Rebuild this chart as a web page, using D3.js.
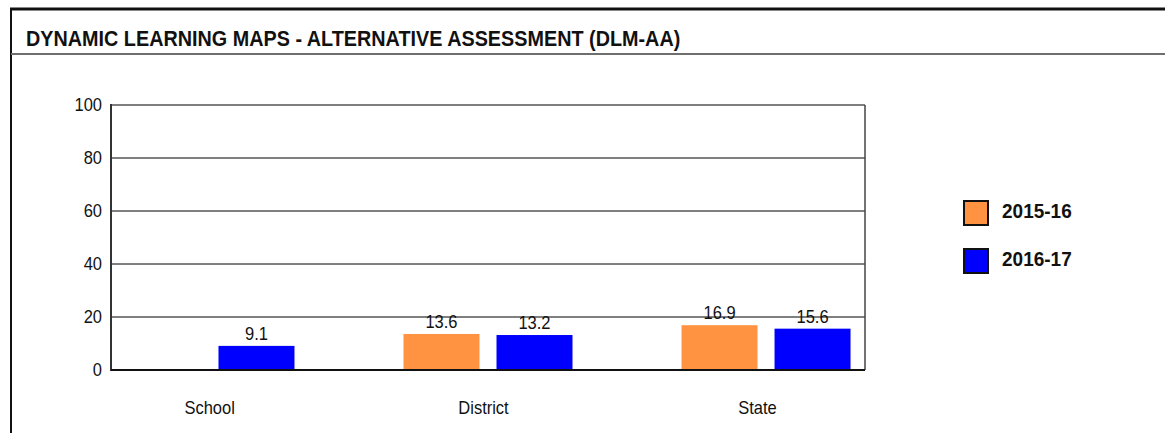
<!DOCTYPE html>
<html>
<head>
<meta charset="utf-8">
<script src="https://cdn.jsdelivr.net/npm/d3@7"></script>
<style>
  body { margin: 0; background: #fff; }
  text { font-family: "Liberation Sans", Arial, sans-serif; }
</style>
</head>
<body>
<div id="chart"></div>
<script>
var title = "DYNAMIC LEARNING MAPS - ALTERNATIVE ASSESSMENT (DLM-AA)";
var categories = ["School", "District", "State"];
var seriesNames = ["2015-16", "2016-17"];
var seriesColors = ["#ff9341", "#0000ff"];
var values2015 = [null, 13.6, 16.9];
var values2016 = [9.1, 13.2, 15.6];
var yTicks = [0, 20, 40, 60, 80, 100];

var allSeries = [values2015, values2016];

var svg = d3.select("#chart").append("svg")
    .attr("width", 1165)
    .attr("height", 433);

// frame + header
svg.append("line").attr("x1", 10).attr("x2", 1165).attr("y1", 9).attr("y2", 9)
    .attr("stroke", "#111").attr("stroke-width", 3);
svg.append("line").attr("x1", 11).attr("x2", 11).attr("y1", 8).attr("y2", 433)
    .attr("stroke", "#111").attr("stroke-width", 2);
svg.append("line").attr("x1", 11).attr("x2", 1165).attr("y1", 54).attr("y2", 54)
    .attr("stroke", "#6e6e6e").attr("stroke-width", 2);
svg.append("text")
    .attr("transform", "translate(26,46) scale(1,1.12)")
    .attr("font-size", "19.8px")
    .attr("font-weight", "bold")
    .attr("fill", "#111")
    .text(title);

var plotL = 111, plotR = 865, plotT = 105, plotB = 370;

var y = d3.scaleLinear().domain([0, 100]).range([plotB, plotT]);
var x0 = d3.scalePoint().domain(categories).range([plotL, plotR]).padding(0.356);
var x1 = d3.scaleBand().domain(d3.range(seriesNames.length)).range([-84.5, 84.5]).paddingInner(0.183);
var xLabel = d3.scalePoint().domain(categories).range([plotL, 856]).padding(0.36);

// gridlines
svg.append("g").selectAll("line")
    .data(yTicks.filter(function(d) { return d > 0; }))
    .enter().append("line")
    .attr("x1", plotL).attr("x2", plotR)
    .attr("y1", function(d) { return y(d); })
    .attr("y2", function(d) { return y(d); })
    .attr("stroke", "#000").attr("stroke-width", 1);

// plot border
svg.append("line").attr("x1", plotR).attr("x2", plotR).attr("y1", plotT).attr("y2", plotB)
    .attr("stroke", "#444").attr("stroke-width", 1.5);
svg.append("line").attr("x1", plotL).attr("x2", plotL).attr("y1", plotT - 1).attr("y2", plotB + 1)
    .attr("stroke", "#333").attr("stroke-width", 2);

// bars
var bars = [];
allSeries.forEach(function(vals, si) {
  vals.forEach(function(v, ci) {
    if (v != null) bars.push({ s: si, c: categories[ci], v: v });
  });
});

svg.append("g").selectAll("rect")
    .data(bars)
    .enter().append("rect")
    .attr("x", function(d) { return x0(d.c) + x1(d.s); })
    .attr("y", function(d) { return y(d.v); })
    .attr("width", x1.bandwidth())
    .attr("height", function(d) { return plotB - y(d.v); })
    .attr("fill", function(d) { return seriesColors[d.s]; });

svg.append("line").attr("x1", plotL).attr("x2", plotR).attr("y1", plotB).attr("y2", plotB)
    .attr("stroke", "#111").attr("stroke-width", 2);

// y tick labels
svg.append("g").selectAll("text")
    .data(yTicks)
    .enter().append("text")
    .attr("transform", function(d) { return "translate(" + (plotL - 9) + "," + (y(d) + 6) + ") scale(1,1.08)"; })
    .attr("text-anchor", "end")
    .attr("font-size", "16.5px")
    .attr("fill", "#111")
    .text(function(d) { return d; });

// value labels
svg.append("g").selectAll("text")
    .data(bars)
    .enter().append("text")
    .attr("transform", function(d) {
      return "translate(" + (x0(d.c) + x1(d.s) + x1.bandwidth() / 2) + "," + (y(d.v) - 6) + ") scale(1,1.08)";
    })
    .attr("text-anchor", "middle")
    .attr("font-size", "16.5px")
    .attr("fill", "#111")
    .text(function(d) { return d.v.toFixed(1); });

// category labels
svg.append("g").selectAll("text")
    .data(categories)
    .enter().append("text")
    .attr("transform", function(d) { return "translate(" + xLabel(d) + ",414) scale(1,1.15)"; })
    .attr("text-anchor", "middle")
    .attr("font-size", "16.5px")
    .attr("fill", "#111")
    .text(function(d) { return d; });

// legend
var legend = svg.append("g").selectAll("g")
    .data(seriesNames)
    .enter().append("g")
    .attr("transform", function(d, i) { return "translate(963," + (200 + i * 48) + ")"; });
legend.append("rect")
    .attr("x", 1).attr("y", 1)
    .attr("width", 24).attr("height", 24)
    .attr("fill", function(d, i) { return seriesColors[i]; })
    .attr("stroke", "#111").attr("stroke-width", 2);
legend.append("text")
    .attr("transform", "translate(39,18) scale(1,1.1)")
    .attr("font-size", "19px")
    .attr("font-weight", "bold")
    .attr("fill", "#111")
    .text(function(d) { return d; });
</script>
</body>
</html>
